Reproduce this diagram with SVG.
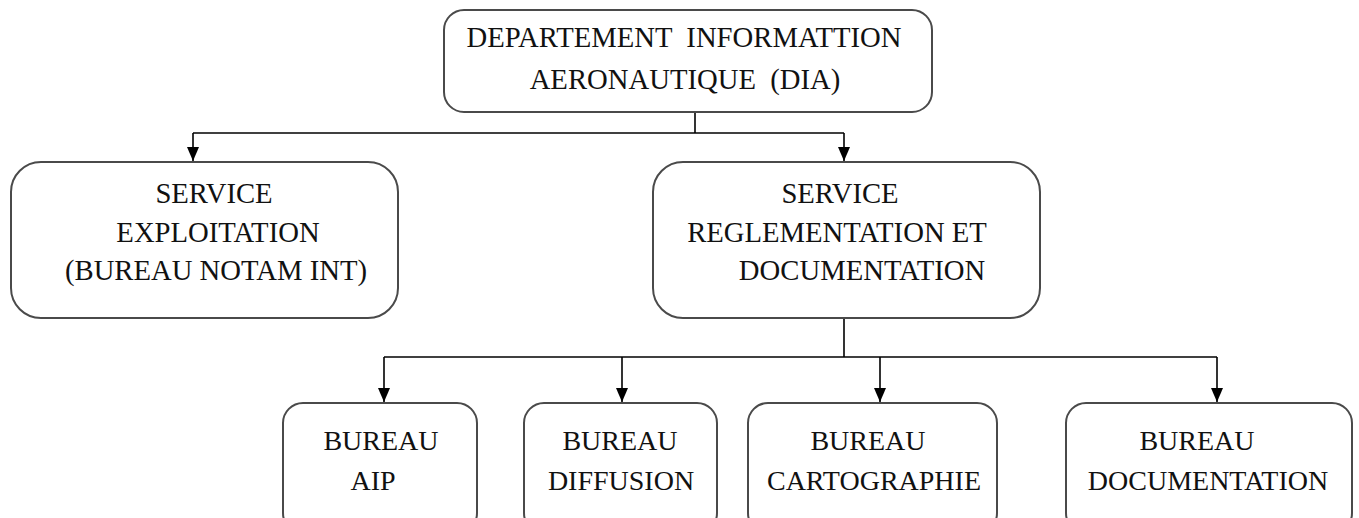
<svg xmlns="http://www.w3.org/2000/svg" width="1359" height="518" viewBox="0 0 1359 518">
  <style>
    .box { fill: #ffffff; stroke: #4a4a4a; stroke-width: 2; }
    .lbl { font-family: 'Liberation Serif', 'DejaVu Serif', serif; font-size: 28px; fill: #111111; text-anchor: middle; white-space: pre; }
    .big { font-size: 28.7px; }
    .wire { fill: none; stroke: #000000; stroke-width: 1.6; }
  </style>
  <defs>
    <marker id="arrow" viewBox="0 0 14 12" refX="14" refY="6" markerWidth="14" markerHeight="12" markerUnits="userSpaceOnUse" orient="auto">
      <path d="M0,0 L14,6 L0,12 Z" fill="#000000"/>
    </marker>
  </defs>
  <rect width="1359" height="518" fill="#ffffff"/>

  <!-- connectors -->
  <g id="connectors">
    <path class="wire" d="M695,112 V133"/>
    <path class="wire" d="M193,133 H844"/>
    <path class="wire" d="M193,133 V161" marker-end="url(#arrow)"/>
    <path class="wire" d="M844,133 V161" marker-end="url(#arrow)"/>
    <path class="wire" d="M844,318 V357"/>
    <path class="wire" d="M384,357 H1217"/>
    <path class="wire" d="M384,357 V402" marker-end="url(#arrow)"/>
    <path class="wire" d="M622,357 V402" marker-end="url(#arrow)"/>
    <path class="wire" d="M880,357 V402" marker-end="url(#arrow)"/>
    <path class="wire" d="M1217,357 V402" marker-end="url(#arrow)"/>
  </g>

  <!-- department -->
  <g id="node-dia">
    <rect class="box" x="444" y="10" width="488" height="102" rx="20"/>
    <text class="lbl big" x="684" y="47">DEPARTEMENT  INFORMATTION</text>
    <text class="lbl big" x="685" y="89">AERONAUTIQUE  (DIA)</text>
  </g>

  <!-- services -->
  <g id="node-exploitation">
    <rect class="box" x="11" y="162" width="387" height="156" rx="30"/>
    <text class="lbl big" x="214" y="203">SERVICE</text>
    <text class="lbl big" x="218" y="242">EXPLOITATION</text>
    <text class="lbl big" x="216" y="280">(BUREAU NOTAM INT)</text>
  </g>
  <g id="node-reglementation">
    <rect class="box" x="653" y="162" width="387" height="156" rx="30"/>
    <text class="lbl big" x="840" y="203">SERVICE</text>
    <text class="lbl big" x="837" y="242">REGLEMENTATION ET</text>
    <text class="lbl big" x="862" y="280">DOCUMENTATION</text>
  </g>

  <!-- bureaux -->
  <g id="node-aip">
    <rect class="box" x="283" y="403" width="194" height="130" rx="20"/>
    <text class="lbl" x="381" y="450">BUREAU</text>
    <text class="lbl" x="373" y="490">AIP</text>
  </g>
  <g id="node-diffusion">
    <rect class="box" x="524" y="403" width="193" height="130" rx="20"/>
    <text class="lbl" x="620" y="450">BUREAU</text>
    <text class="lbl" x="621" y="490">DIFFUSION</text>
  </g>
  <g id="node-cartographie">
    <rect class="box" x="748" y="403" width="249" height="130" rx="20"/>
    <text class="lbl" x="868" y="450">BUREAU</text>
    <text class="lbl" x="874" y="490">CARTOGRAPHIE</text>
  </g>
  <g id="node-documentation">
    <rect class="box" x="1066" y="403" width="286" height="130" rx="20"/>
    <text class="lbl" x="1197" y="450">BUREAU</text>
    <text class="lbl" x="1208" y="490">DOCUMENTATION</text>
  </g>
</svg>
